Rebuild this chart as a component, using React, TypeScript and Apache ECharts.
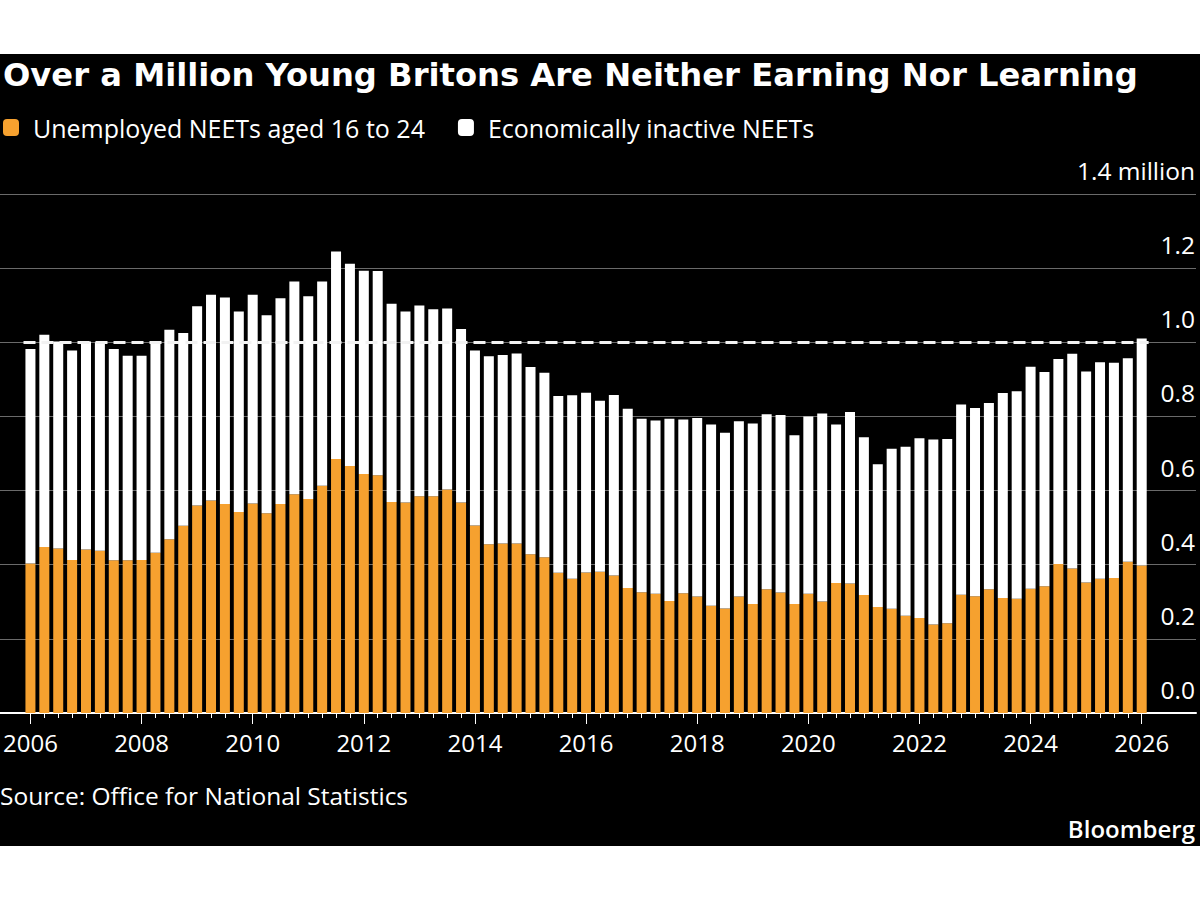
import React, { useEffect, useRef } from "react";
import * as echarts from "echarts";

// Quarterly periods, 2006 through 2026 (81 bars)
const quarterLabels: string[] = [];
for (let y = 2006; y <= 2026; y++) {
  for (let q = 1; q <= 4; q++) quarterLabels.push(`${y} Q${q}`);
}
const categories = quarterLabels.slice(0, 81);

// Millions
const unemployed = [
  0.403, 0.448, 0.444, 0.413, 0.441, 0.438, 0.412, 0.412, 0.413, 0.432,
  0.469, 0.505, 0.56, 0.573, 0.564, 0.542, 0.565, 0.539, 0.564, 0.59,
  0.577, 0.613, 0.685, 0.666, 0.645, 0.641, 0.569, 0.568, 0.585, 0.585,
  0.603, 0.568, 0.506, 0.455, 0.457, 0.457, 0.428, 0.42, 0.378, 0.362,
  0.379, 0.381, 0.371, 0.337, 0.326, 0.322, 0.302, 0.323, 0.314, 0.289,
  0.282, 0.314, 0.294, 0.334, 0.325, 0.294, 0.322, 0.301, 0.351, 0.349,
  0.318, 0.286, 0.281, 0.262, 0.256, 0.239, 0.242, 0.319, 0.315, 0.334,
  0.31, 0.308, 0.335, 0.342, 0.402, 0.39, 0.352, 0.362, 0.364, 0.408,
  0.398,
];

const inactive = [
  0.579, 0.572, 0.558, 0.565, 0.561, 0.562, 0.57, 0.552, 0.551, 0.568,
  0.565, 0.52, 0.537, 0.555, 0.557, 0.541, 0.563, 0.534, 0.555, 0.574,
  0.547, 0.551, 0.56, 0.546, 0.548, 0.551, 0.535, 0.515, 0.514, 0.504,
  0.488, 0.468, 0.472, 0.507, 0.509, 0.513, 0.505, 0.498, 0.477, 0.495,
  0.485, 0.461, 0.487, 0.484, 0.468, 0.467, 0.492, 0.469, 0.482, 0.489,
  0.474, 0.473, 0.487, 0.472, 0.479, 0.455, 0.478, 0.507, 0.427, 0.463,
  0.426, 0.385, 0.432, 0.456, 0.485, 0.499, 0.497, 0.513, 0.508, 0.502,
  0.553, 0.56, 0.599, 0.578, 0.553, 0.579, 0.569, 0.584, 0.581, 0.549,
  0.612,
];

const referenceLevel = 1.0;

const ORANGE = "#F6A12F";
const FONT = "Open Sans";

export default function App() {
  const ref = useRef<HTMLDivElement>(null);

  useEffect(() => {
    if (!ref.current) return;
    const chart = echarts.init(ref.current, null, { renderer: "svg" });
    const gridTop = 140;
    const gridBottom = 133;
    chart.setOption({
      animation: false,
      backgroundColor: "#000",
      textStyle: { fontFamily: FONT },
      graphic: [
        {
          type: "text",
          left: 3,
          top: 5,
          style: {
            text: "Over a Million Young Britons Are Neither Earning Nor Learning",
            fill: "#fff",
            font: `bold 32.2px "DejaVu Sans"`,
          },
        },
        {
          type: "text",
          left: 0,
          top: 729,
          style: {
            text: "Source: Office for National Statistics",
            fill: "#fff",
            font: `24.5px "${FONT}"`,
          },
        },
        {
          type: "text",
          right: 5,
          top: 762,
          style: {
            text: "Bloomberg",
            fill: "#fff",
            font: `600 24px "${FONT}"`,
          },
        },
      ],
      legend: {
        left: 3,
        top: 61,
        padding: 0,
        icon: "roundRect",
        itemWidth: 16,
        itemHeight: 17,
        itemGap: 33,
        selectedMode: false,
        textStyle: {
          color: "#fff",
          fontSize: 25,
          fontFamily: FONT,
          padding: [0, 0, 0, 9],
        },
        data: ["Unemployed NEETs aged 16 to 24", "Economically inactive NEETs"],
      },
      grid: [
        { left: 0, right: 4, top: gridTop, bottom: gridBottom },
        { left: 22.35, right: 51.35, top: gridTop, bottom: gridBottom },
      ],
      xAxis: [
        {
          gridIndex: 0,
          type: "value",
          min: 0,
          max: 1,
          axisLine: { show: true, lineStyle: { color: "#fff", width: 2 } },
          axisTick: { show: false },
          axisLabel: { show: false },
          splitLine: { show: false },
        },
        {
          gridIndex: 1,
          type: "category",
          position: "bottom",
          data: categories,
          boundaryGap: true,
          axisLine: { show: false },
          axisTick: {
            show: true,
            alignWithLabel: true,
            interval: 7,
            length: 11,
            lineStyle: { color: "#fff", width: 1 },
          },
          axisLabel: {
            interval: 7,
            color: "#fff",
            fontSize: 24,
            fontFamily: FONT,
            margin: 17,
            formatter: (v: string) => v.slice(0, 4),
          },
        },
        {
          gridIndex: 1,
          type: "category",
          position: "bottom",
          data: categories,
          boundaryGap: true,
          axisLine: { show: false },
          axisTick: {
            show: true,
            alignWithLabel: true,
            interval: 0,
            length: 5,
            lineStyle: { color: "#fff", width: 1 },
          },
          axisLabel: { show: false },
        },
      ],
      yAxis: [
        {
          gridIndex: 0,
          type: "value",
          position: "right",
          min: 0,
          max: 1.4,
          interval: 0.2,
          axisLine: { show: false },
          axisTick: { show: false },
          splitLine: { show: true, lineStyle: { color: "#6a6a6a", width: 1 } },
          axisLabel: {
            inside: true,
            margin: 1,
            color: "#fff",
            fontSize: 24.5,
            fontFamily: FONT,
            align: "right",
            verticalAlign: "bottom",
            padding: [0, 0, 11, 0],
            formatter: (v: number) =>
              v > 1.39 ? "1.4 million" : v.toFixed(1),
          },
        },
        {
          gridIndex: 1,
          type: "value",
          min: 0,
          max: 1.4,
          show: false,
        },
      ],
      series: [
        {
          name: "Unemployed NEETs aged 16 to 24",
          type: "bar",
          stack: "total",
          xAxisIndex: 1,
          yAxisIndex: 1,
          barWidth: 10,
          itemStyle: { color: ORANGE },
          data: unemployed,
        },
        {
          name: "Economically inactive NEETs",
          type: "bar",
          stack: "total",
          xAxisIndex: 1,
          yAxisIndex: 1,
          barWidth: 10,
          itemStyle: { color: "#fff" },
          data: inactive,
          markLine: {
            silent: true,
            symbol: "none",
            label: { show: false },
            lineStyle: { color: "#f2f2f2", type: [12, 6], width: 3 },
            data: [{ yAxis: referenceLevel }],
          },
        },
      ],
    });
    return () => chart.dispose();
  }, []);

  return (
    <div
      style={{
        position: "absolute",
        left: 0,
        top: 0,
        width: 1200,
        height: 900,
        background: "#fff",
      }}
    >
      <div
        ref={ref}
        style={{ position: "absolute", left: 0, top: 54, width: 1200, height: 792 }}
      />
    </div>
  );
}
